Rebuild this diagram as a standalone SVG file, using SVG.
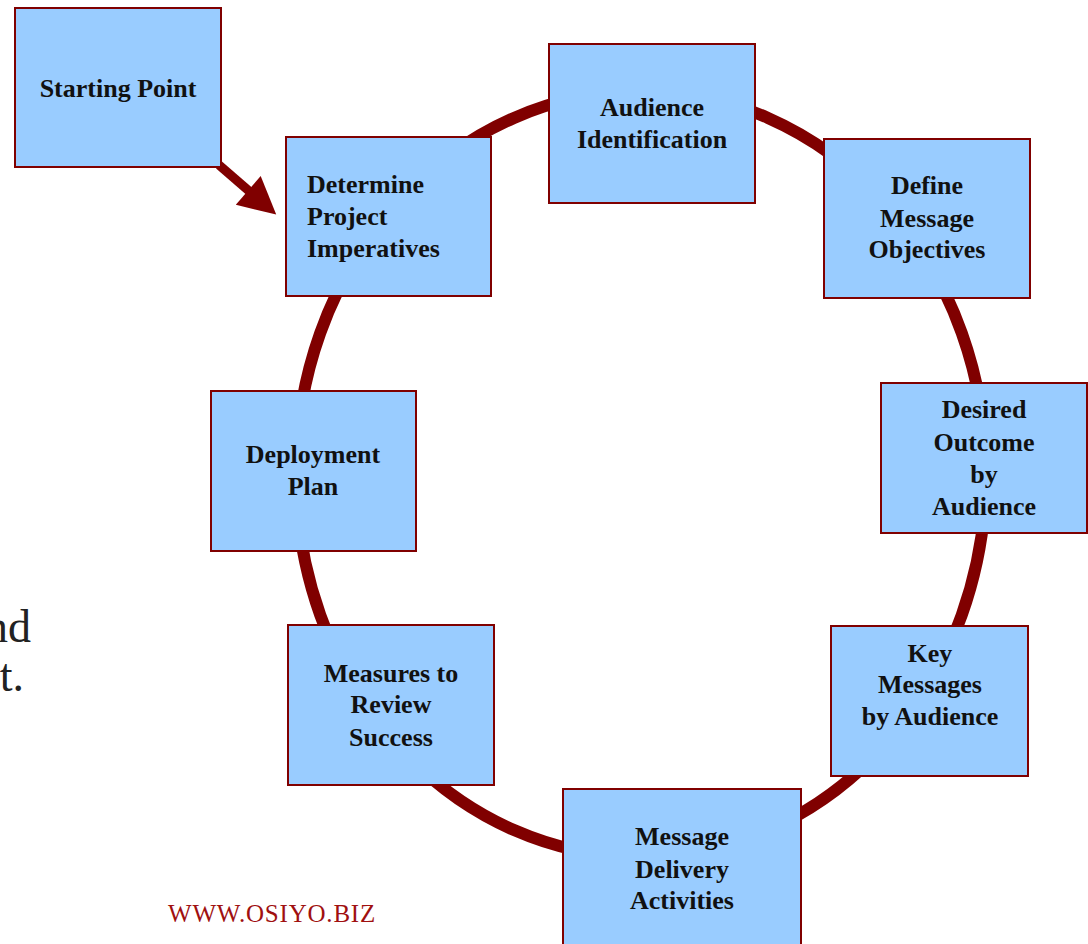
<svg xmlns="http://www.w3.org/2000/svg" width="1088" height="944" viewBox="0 0 1088 944">
  <style>
    .box { fill: #99CCFF; stroke: #800000; stroke-width: 2; }
    .lbl { font-family: "Liberation Serif", "Times New Roman", serif; font-weight: bold; font-size: 26px; fill: #111111; text-anchor: middle; }
    .lft { text-anchor: start; }
    .ring { fill: none; stroke: #800000; stroke-width: 12; }
    .arrow { fill: none; stroke: #800000; stroke-width: 9; }
    .web { font-family: "Liberation Serif", "Times New Roman", serif; font-size: 25px; letter-spacing: 0.8px; fill: #A01010; }
    .bg { font-family: "Liberation Serif", "Times New Roman", serif; font-size: 46px; fill: #222222; text-anchor: end; }
  </style>
  <defs>
    <marker id="head" markerUnits="userSpaceOnUse" markerWidth="40" markerHeight="40" refX="1" refY="19" orient="auto" overflow="visible">
      <path d="M0,0 L37,19 L0,38 z" fill="#800000"/>
    </marker>
  </defs>
  <rect width="1088" height="944" fill="#ffffff"/>

  <text class="bg" x="31" y="642">nd</text>
  <text class="bg" x="24" y="691">t.</text>

  <g id="connectors">
    <ellipse class="ring" cx="641" cy="474" rx="345" ry="383"/>
    <line class="arrow" x1="219" y1="165" x2="249" y2="191" marker-end="url(#head)"/>
  </g>

  <g id="start">
    <rect class="box" x="15" y="8" width="206" height="159"/>
    <text class="lbl" x="118" y="97">Starting Point</text>
  </g>

  <g id="determine">
    <rect class="box" x="286" y="137" width="205" height="159"/>
    <text class="lbl lft" x="307" y="193">Determine</text>
    <text class="lbl lft" x="307" y="225">Project</text>
    <text class="lbl lft" x="307" y="257">Imperatives</text>
  </g>

  <g id="audience">
    <rect class="box" x="549" y="44" width="206" height="159"/>
    <text class="lbl" x="652" y="116">Audience</text>
    <text class="lbl" x="652" y="148">Identification</text>
  </g>

  <g id="define">
    <rect class="box" x="824" y="139" width="206" height="159"/>
    <text class="lbl" x="927" y="194">Define</text>
    <text class="lbl" x="927" y="227">Message</text>
    <text class="lbl" x="927" y="258">Objectives</text>
  </g>

  <g id="desired">
    <rect class="box" x="881" y="383" width="206" height="150"/>
    <text class="lbl" x="984" y="418">Desired</text>
    <text class="lbl" x="984" y="451">Outcome</text>
    <text class="lbl" x="984" y="483">by</text>
    <text class="lbl" x="984" y="515">Audience</text>
  </g>

  <g id="keymessages">
    <rect class="box" x="831" y="626" width="197" height="150"/>
    <text class="lbl" x="930" y="662">Key</text>
    <text class="lbl" x="930" y="693">Messages</text>
    <text class="lbl" x="930" y="725">by Audience</text>
  </g>

  <g id="delivery">
    <rect class="box" x="563" y="789" width="238" height="170"/>
    <text class="lbl" x="682" y="845">Message</text>
    <text class="lbl" x="682" y="878">Delivery</text>
    <text class="lbl" x="682" y="909">Activities</text>
  </g>

  <g id="measures">
    <rect class="box" x="288" y="625" width="206" height="160"/>
    <text class="lbl" x="391" y="682">Measures to</text>
    <text class="lbl" x="391" y="713">Review</text>
    <text class="lbl" x="391" y="746">Success</text>
  </g>

  <g id="deployment">
    <rect class="box" x="211" y="391" width="205" height="160"/>
    <text class="lbl" x="313" y="463">Deployment</text>
    <text class="lbl" x="313" y="495">Plan</text>
  </g>

  <text class="web" x="168" y="922">WWW.OSIYO.BIZ</text>
</svg>
